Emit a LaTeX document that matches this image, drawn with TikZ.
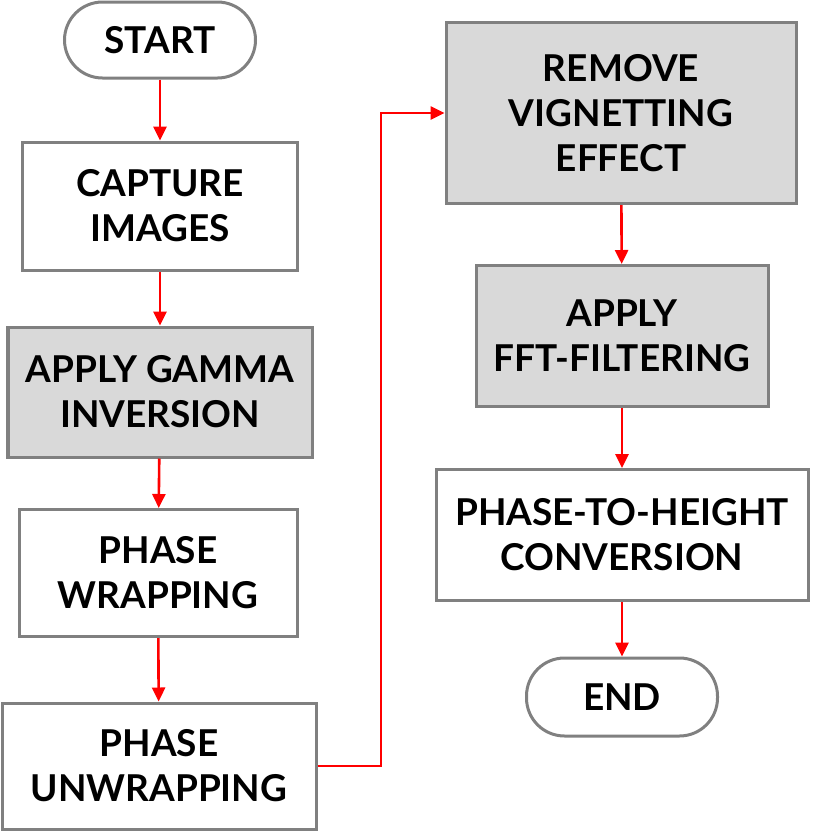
\documentclass[tikz,border=0pt]{standalone}
\usepackage{fontspec}
\setmainfont{Lato}
\usetikzlibrary{arrows.meta}

\definecolor{edgegray}{RGB}{128,128,128}
\definecolor{boxfill}{RGB}{217,217,217}

\tikzset{
  stepbox/.style={draw=edgegray, line width=1.5pt, fill=white, align=center,
    inner sep=0pt, font=\fontsize{18.5}{22.5}\selectfont\bfseries},
  shadedbox/.style={stepbox, fill=boxfill},
  terminal/.style={stepbox, rounded corners=19pt},
  flow/.style={draw=red, line width=1.3pt, -{Triangle[length=7pt,width=6.5pt]}}
}

\begin{document}
\begin{tikzpicture}[x=0.5pt,y=-0.5pt]
  \useasboundingbox (0,0) rectangle (817,832);

  % Left column
  \node[terminal, minimum width=95.5pt, minimum height=38pt] (start) at (160,40) {START};
  \node[stepbox, minimum width=137.5pt, minimum height=64pt] (capture) at (160,206) {CAPTURE\\IMAGES};
  \node[shadedbox, minimum width=152pt, minimum height=65pt] (gamma) at (160,392) {APPLY GAMMA\\INVERSION};
  \node[stepbox, minimum width=139pt, minimum height=63.5pt] (wrap) at (158,573) {PHASE\\WRAPPING};
  \node[stepbox, minimum width=157pt, minimum height=63pt] (unwrap) at (159,766) {PHASE\\UNWRAPPING};

  % Right column
  \node[shadedbox, minimum width=175pt, minimum height=90.5pt] (vignet) at (621,113) {REMOVE\\VIGNETTING\\EFFECT};
  \node[shadedbox, minimum width=146pt, minimum height=70.5pt] (fft) at (622,336) {APPLY\\FFT-FILTERING};
  \node[stepbox, minimum width=186pt, minimum height=65.5pt] (height) at (622,535) {PHASE-TO-HEIGHT\\CONVERSION};
  \node[terminal, minimum width=95.5pt, minimum height=39pt] (end) at (622,697) {END};

  % Connectors
  \coordinate (bend) at (381,113);
  \draw[flow] (start) -- (capture);
  \draw[flow] (capture) -- (gamma);
  \draw[flow] (gamma) -- (wrap);
  \draw[flow] (wrap) -- (unwrap);
  \draw[flow] (unwrap.east) -| (bend) -- (vignet.west);
  \draw[flow] (vignet) -- (fft);
  \draw[flow] (fft) -- (height);
  \draw[flow] (height) -- (end);
\end{tikzpicture}
\end{document}
